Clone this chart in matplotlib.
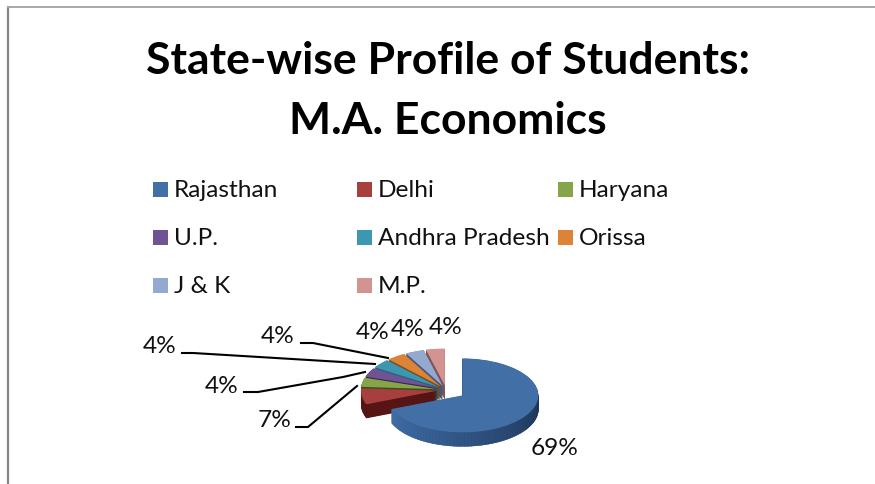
import numpy as np
import matplotlib
matplotlib.use("Agg")
import matplotlib.pyplot as plt
from matplotlib.patches import Wedge, Rectangle

states = ["Rajasthan", "Delhi", "Haryana", "U.P.", "Andhra Pradesh", "Orissa", "J & K", "M.P."]
shares = [69, 7, 4, 4, 4, 4, 4, 4]
top_colors = ["#4270a6", "#a63f3e", "#86a44a", "#6f5392", "#3d97b0", "#dc8336", "#93a9d0", "#d29391"]
side_colors = ["#2a4a70", "#561414", "#3f5020", "#3a2850", "#25687c", "#7c4a1c", "#46597c", "#7c5452"]
pull = [0.26, 0.12, 0.12, 0.12, 0.12, 0.12, 0.12, 0.12]

plt.rcParams["font.family"] = ["Lato", "DejaVu Sans"]
fig = plt.figure(figsize=(8.75, 4.85), dpi=100)

# overlay in pixels for frame, title, legend, labels
page = fig.add_axes([0, 0, 1, 1])
page.set_xlim(0, 875)
page.set_ylim(485, 0)
page.axis("off")
page.plot([8, 8], [485, 8], color="#868686", lw=1.6)
page.plot([8, 875], [8, 8], color="#a8a8a8", lw=1.4)

page.text(448, 61, "State-wise Profile of Students:", ha="center", va="center", fontsize=32, fontweight="bold", color="black")
page.text(448, 121, "M.A. Economics", ha="center", va="center", fontsize=32, fontweight="bold", color="black")

# legend, three columns
col_x = [153, 357, 558]
row_y = [190, 238, 286]
for i, name in enumerate(states):
    x = col_x[i % 3]
    y = row_y[i // 3]
    page.add_patch(Rectangle((x, y - 7.5), 15, 15, color=top_colors[i], lw=0))
    page.text(x + 21, y + 1, name, ha="left", va="center", fontsize=17.6, color="#111111")

# pie, x and y scaled differently to look tilted
px_x, px_y = 76.0, 37.0
cx, cy = 446.0, 391.0
pie = fig.add_axes([(cx - 2 * px_x) / 875, 1 - (cy + 2 * px_y) / 485, 4 * px_x / 875, 4 * px_y / 485])
pie.set_xlim(-2, 2)
pie.set_ylim(-2, 2)
pie.axis("off")
pie.patch.set_alpha(0)

depth = 14.0 / px_y
angles = 90 - np.cumsum([0] + shares) * 3.6

# back slices first, then towards the viewer, the big one last
for i in list(range(len(shares) - 1, 0, -1)) + [0]:
    a1, a0 = angles[i], angles[i + 1]
    mid = np.radians((a0 + a1) / 2)
    x0 = pull[i] * np.cos(mid)
    y0 = pull[i] * np.sin(mid)
    for d in np.linspace(depth, 0.01, 30):
        pie.add_patch(Wedge((x0, y0 - d), 1, a0, a1, color=side_colors[i], lw=0))
    if i == 0:
        # shading along the front wall of the big slice
        th = np.linspace(a0, 0, 60)
        for t0, t1 in zip(th[:-1], th[1:]):
            f = (t0 - a0) / (0 - a0)
            shade = np.array([0.25, 0.43, 0.66]) * (1 - f) + np.array([0.11, 0.2, 0.33]) * f
            xs = x0 + np.cos(np.radians([t0, t1, t1, t0]))
            ys = y0 + np.sin(np.radians([t0, t1, t1, t0])) - np.array([0, 0, depth, depth])
            pie.fill(xs, ys, color=shade, lw=0.3)
    pie.add_patch(Wedge((x0, y0), 1, a0, a1, color=top_colors[i], lw=0))

# data labels
label_pos = [(555, 449), (275, 421), (222, 387), (160, 347), (278, 337), (373, 333), (408, 330), (446, 328)]
for val, (x, y) in zip(shares, label_pos):
    page.text(x, y, "%d%%" % val, ha="center", va="center", fontsize=17.6, color="#111111")

# leader lines
leaders = [
    ([296, 308, 357], [428, 428, 387]),
    ([244, 258, 343, 365], [393, 393, 378, 373]),
    ([182, 193, 375], [354, 354, 365]),
    ([301, 313, 388], [344, 344, 359]),
]
for xs, ys in leaders:
    page.plot(xs, ys, color="black", lw=1.5)

fig.savefig("out.png", dpi=100)
